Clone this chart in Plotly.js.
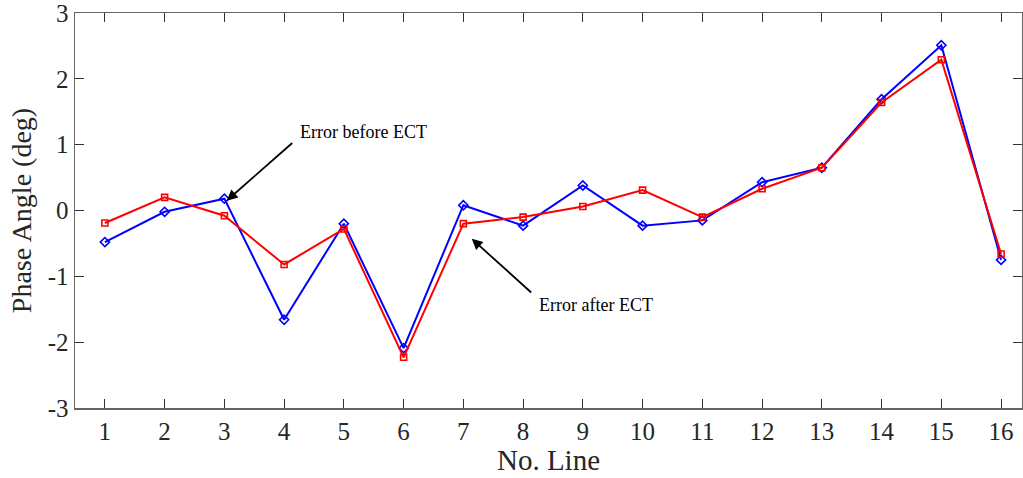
<!DOCTYPE html>
<html>
<head>
<meta charset="utf-8">
<script src="https://cdn.plot.ly/plotly-3.0.1.min.js"></script>
<style>html,body{margin:0;padding:0;background:#fff;}#chart{width:1023px;height:478px;}</style>
</head>
<body>
<div id="chart"></div>
<script>
const lines = [1,2,3,4,5,6,7,8,9,10,11,12,13,14,15,16];
const errorBefore = [-0.48,-0.02,0.18,-1.66,-0.20,-2.09,0.08,-0.23,0.38,-0.23,-0.15,0.43,0.65,1.69,2.51,-0.75];
const errorAfter  = [-0.19,0.20,-0.08,-0.82,-0.28,-2.23,-0.20,-0.10,0.06,0.31,-0.10,0.33,0.65,1.64,2.29,-0.66];
const yTicks = [-3,-2,-1,0,1,2,3];
const labelBefore = "Error before ECT";
const labelAfter = "Error after ECT";

const serif = "Liberation Serif, Times New Roman, serif";

const traces = [
  {x: lines, y: errorBefore, type: 'scatter', mode: 'lines+markers', name: labelBefore,
   line: {color: '#0000ff', width: 2},
   marker: {symbol: 'diamond-open', size: 7, color: '#0000ff', line: {width: 1.6, color: '#0000ff'}}},
  {x: lines, y: errorAfter, type: 'scatter', mode: 'lines+markers', name: labelAfter,
   line: {color: '#ff0000', width: 2},
   marker: {symbol: 'square-open', size: 6, color: '#ff0000', line: {width: 1.6, color: '#ff0000'}}}
];

const axisCommon = {
  showline: true, mirror: 'ticks', linecolor: '#666', linewidth: 1.5,
  ticks: 'inside', ticklen: 9, tickwidth: 1, tickcolor: '#333',
  showgrid: false, zeroline: false, ticklabeloverflow: 'allow',
  tickfont: {family: serif, size: 25, color: '#262626'}
};

const layout = {
  width: 1023, height: 478,
  margin: {l: 75, r: 1, t: 13, b: 70},
  paper_bgcolor: '#fff', plot_bgcolor: '#fff',
  showlegend: false,
  xaxis: Object.assign({}, axisCommon, {
    range: [0.5, 16.35], tickmode: 'array', tickvals: lines, ticktext: lines.map(String),
    title: {text: 'No. Line', font: {family: serif, size: 29, color: '#262626'}, standoff: 0}
  }),
  yaxis: Object.assign({}, axisCommon, {
    range: [-3, 3], tickmode: 'array', tickvals: yTicks, ticktext: yTicks.map(String),
    title: {text: 'Phase Angle (deg)', font: {family: serif, size: 28, color: '#262626'}, standoff: 8}
  }),
  annotations: [
    {x: 3.04, y: 0.15, xref: 'x', yref: 'y', ax: 67, ay: -59, axref: 'pixel', ayref: 'pixel',
     text: '', showarrow: true, arrowhead: 2, arrowsize: 1.2, arrowwidth: 1.8, arrowcolor: '#000'},
    {x: 4.23, y: 1.20, xref: 'x', yref: 'y', xanchor: 'left', yanchor: 'middle', showarrow: false,
     text: labelBefore, font: {family: serif, size: 18, color: '#000'}},
    {x: 7.14, y: -0.43, xref: 'x', yref: 'y', ax: 61, ay: 55, axref: 'pixel', ayref: 'pixel',
     text: '', showarrow: true, arrowhead: 2, arrowsize: 1.2, arrowwidth: 1.8, arrowcolor: '#000'},
    {x: 8.24, y: -1.43, xref: 'x', yref: 'y', xanchor: 'left', yanchor: 'middle', showarrow: false,
     text: labelAfter, font: {family: serif, size: 18, color: '#000'}}
  ]
};

Plotly.newPlot('chart', traces, layout, {displayModeBar: false, staticPlot: true});
</script>
</body>
</html>
